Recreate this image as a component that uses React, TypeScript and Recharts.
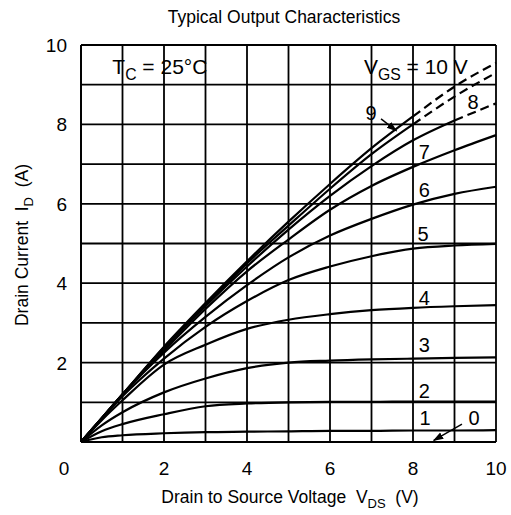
import React from "react";
import {
  CartesianGrid,
  Line,
  LineChart,
  ReferenceDot,
  ReferenceLine,
  XAxis,
  YAxis,
} from "recharts";

// drain-source voltage samples (V)
const VDS = [0, 0.5, 1, 2, 3, 4, 5, 6, 7, 8, 9, 10];

// drain current (A) per gate voltage
const ID_VGS10 = [0, 0.6, 1.2, 2.4, 3.5, 4.55, 5.55, 6.5, 7.4, 8.2, 8.95, 9.55];
const ID_VGS9 = [0, 0.6, 1.2, 2.38, 3.45, 4.5, 5.45, 6.38, 7.25, 8.0, 8.7, 9.3];
const ID_VGS8 = [0, 0.6, 1.2, 2.35, 3.42, 4.42, 5.35, 6.2, 6.95, 7.6, 8.1, 8.53];
const ID_VGS7 = [0, 0.6, 1.2, 2.3, 3.35, 4.3, 5.1, 5.85, 6.45, 6.93, 7.35, 7.73];
const ID_VGS6 = [0, 0.6, 1.2, 2.25, 3.15, 3.95, 4.65, 5.2, 5.62, 5.98, 6.25, 6.43];
const ID_VGS5 = [0, 0.58, 1.15, 2.1, 2.9, 3.55, 4.08, 4.42, 4.68, 4.87, 4.95, 4.99];
const ID_VGS4 = [0, 0.55, 1.05, 1.95, 2.45, 2.85, 3.08, 3.22, 3.32, 3.38, 3.42, 3.45];
const ID_VGS3 = [0, 0.42, 0.75, 1.25, 1.6, 1.86, 2.0, 2.05, 2.08, 2.1, 2.12, 2.13];
const ID_VGS2 = [0, 0.27, 0.45, 0.7, 0.9, 0.97, 1.0, 1.01, 1.01, 1.02, 1.02, 1.02];
const ID_VGS1 = [0, 0.12, 0.17, 0.22, 0.25, 0.26, 0.27, 0.28, 0.28, 0.29, 0.29, 0.3];
const ID_VGS0 = [0, 0, 0, 0, 0, 0, 0, 0, 0, 0, 0, 0];

// where the measured (solid) part of a curve turns into the dashed extrapolation
const DASH_FROM_VGS10 = 8;
const DASH_FROM_VGS9 = 8;
const DASH_FROM_VGS8 = 9;

const AXIS_TICKS = [0, 1, 2, 3, 4, 5, 6, 7, 8, 9, 10];

// curve labels: [text, Vds, Id]
const CURVE_LABELS: [string, number, number][] = [
  ["9", 6.99, 8.29],
  ["8", 9.45, 8.56],
  ["7", 8.27, 7.3],
  ["6", 8.27, 6.35],
  ["5", 8.24, 5.24],
  ["4", 8.27, 3.63],
  ["3", 8.27, 2.44],
  ["2", 8.27, 1.28],
  ["1", 8.29, 0.6],
  ["0", 9.47, 0.6],
];

const FONT = "'Liberation Sans', Arial, Helvetica, sans-serif";
const INK = "#000";

const rows = VDS.map((v, i) => ({
  v,
  g10s: v <= DASH_FROM_VGS10 ? ID_VGS10[i] : null,
  g10d: v >= DASH_FROM_VGS10 ? ID_VGS10[i] : null,
  g9s: v <= DASH_FROM_VGS9 ? ID_VGS9[i] : null,
  g9d: v >= DASH_FROM_VGS9 ? ID_VGS9[i] : null,
  g8s: v <= DASH_FROM_VGS8 ? ID_VGS8[i] : null,
  g8d: v >= DASH_FROM_VGS8 ? ID_VGS8[i] : null,
  g7: ID_VGS7[i],
  g6: ID_VGS6[i],
  g5: ID_VGS5[i],
  g4: ID_VGS4[i],
  g3: ID_VGS3[i],
  g2: ID_VGS2[i],
  g1: ID_VGS1[i],
  g0: ID_VGS0[i],
}));

const SOLID = ["g10s", "g9s", "g8s", "g7", "g6", "g5", "g4", "g3", "g2", "g1", "g0"];
const DASHED = ["g10d", "g9d", "g8d"];

function XTick({ x, y, payload }: any) {
  const val = payload.value;
  if (val % 2 !== 0) return <g />;
  return (
    <text
      x={val === 0 ? x - 17 : x}
      y={y}
      dy={31}
      textAnchor="middle"
      fontFamily={FONT}
      fontSize={19}
      fill={INK}
    >
      {val}
    </text>
  );
}

function YTick({ x, y, payload }: any) {
  const val = payload.value;
  if (val % 2 !== 0 || val === 0) return <g />;
  return (
    <text
      x={x - 12}
      y={y}
      dy={7}
      textAnchor="end"
      fontFamily={FONT}
      fontSize={19}
      fill={INK}
    >
      {val}
    </text>
  );
}

function subText(main: string, sub: string, rest: string, size: number) {
  return (props: any) => {
    const vb = props.viewBox || {};
    const cx = (vb.x || 0) + (vb.width || 0) / 2;
    const cy = (vb.y || 0) + (vb.height || 0) / 2;
    return (
      <text x={cx} y={cy} dy={7} textAnchor="middle" fontFamily={FONT} fontSize={size} fill={INK}>
        {main}
        <tspan dy={6} fontSize={size * 0.75}>
          {sub}
        </tspan>
        <tspan dy={-6}>{rest}</tspan>
      </text>
    );
  };
}

function plainText(value: string) {
  return (props: any) => {
    const vb = props.viewBox || {};
    const cx = (vb.x || 0) + (vb.width || 0) / 2;
    const cy = (vb.y || 0) + (vb.height || 0) / 2;
    return (
      <text x={cx} y={cy} dy={7} textAnchor="middle" fontFamily={FONT} fontSize={20} fill={INK}>
        {value}
      </text>
    );
  };
}

export default function App() {
  return (
    <div style={{ position: "absolute", left: 0, top: 0, width: 511, height: 515, background: "#fff" }}>
      <LineChart
        width={511}
        height={515}
        data={rows}
        margin={{ top: 45, right: 15, bottom: 0, left: 0 }}
      >
        <defs>
          <marker
            id="arrowHead"
            viewBox="0 0 10 10"
            refX="9"
            refY="5"
            markerWidth="7"
            markerHeight="7"
            orient="auto"
          >
            <path d="M0,1.5 L10,5 L0,8.5 z" fill={INK} />
          </marker>
        </defs>
        <CartesianGrid stroke={INK} strokeWidth={1.8} />
        <XAxis
          dataKey="v"
          type="number"
          domain={[0, 10]}
          ticks={AXIS_TICKS}
          interval={0}
          tick={<XTick />}
          tickLine={false}
          tickSize={0}
          axisLine={{ stroke: INK, strokeWidth: 1.8 }}
          height={73}
        />
        <YAxis
          type="number"
          domain={[0, 10]}
          ticks={AXIS_TICKS}
          interval={0}
          tick={<YTick />}
          tickLine={false}
          tickSize={0}
          axisLine={{ stroke: INK, strokeWidth: 1.8 }}
          width={81}
        />
        {SOLID.map((k) => (
          <Line
            key={k}
            dataKey={k}
            type="monotone"
            stroke={INK}
            strokeWidth={2.2}
            dot={false}
            activeDot={false}
            isAnimationActive={false}
          />
        ))}
        {DASHED.map((k) => (
          <Line
            key={k}
            dataKey={k}
            type="monotone"
            stroke={INK}
            strokeWidth={2.2}
            strokeDasharray="9 5"
            dot={false}
            activeDot={false}
            isAnimationActive={false}
          />
        ))}
        <ReferenceLine
          segment={[
            { x: 7.23, y: 8.14 },
            { x: 7.6, y: 7.84 },
          ]}
          stroke={INK}
          strokeWidth={1.5}
          markerEnd="url(#arrowHead)"
        />
        <ReferenceLine
          segment={[
            { x: 9.18, y: 0.45 },
            { x: 8.5, y: 0.04 },
          ]}
          stroke={INK}
          strokeWidth={1.5}
          markerEnd="url(#arrowHead)"
        />
        <ReferenceDot x={1.9} y={9.45} r={0} stroke="none" fill="none" label={subText("T", "C", " = 25°C", 21)} />
        <ReferenceDot x={8.07} y={9.45} r={0} stroke="none" fill="none" label={subText("V", "GS", " = 10 V", 21)} />
        {CURVE_LABELS.map(([t, x, y]) => (
          <ReferenceDot key={t} x={x} y={y} r={0} stroke="none" fill="none" label={plainText(t)} />
        ))}
        <text x={284} y={23} textAnchor="middle" fontFamily={FONT} fontSize={17.5} fill={INK}>
          Typical Output Characteristics
        </text>
        <text x={290} y={503} textAnchor="middle" fontFamily={FONT} fontSize={17.5} fill={INK}>
          Drain to Source Voltage{"\u00a0\u00a0"}V
          <tspan dy={5} fontSize={13}>DS</tspan>
          <tspan dy={-5}>{"\u00a0\u00a0"}(V)</tspan>
        </text>
        <text
          x={28}
          y={245}
          transform="rotate(-90 28 245)"
          textAnchor="middle"
          fontFamily={FONT}
          fontSize={17.5}
          fill={INK}
        >
          Drain Current{"\u00a0\u00a0"}I
          <tspan dy={5} fontSize={13}>D</tspan>
          <tspan dy={-5}>{"\u00a0\u00a0"}(A)</tspan>
        </text>
      </LineChart>
    </div>
  );
}
